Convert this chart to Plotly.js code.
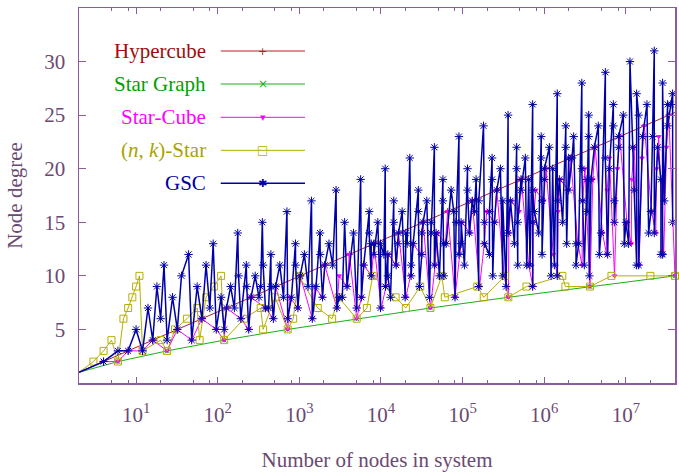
<!DOCTYPE html>
<html><head><meta charset="utf-8">
<script src="https://cdn.plot.ly/plotly-3.0.1.min.js"></script>
<style>html,body{margin:0;padding:0;background:#fff;}#chart{width:679px;height:472px;}</style>
</head><body><div id="chart"></div>
<script>
// ---- data ----
const hyperNodes = [2,4,8,16,32,64,128,256,512,1024,2048,4096,8192,16384,32768,65536,131072,262144,524288,1048576,2097152,4194304,8388608,16777216,33554432,67108864];
const hyperDegree = [1,2,3,4,5,6,7,8,9,10,11,12,13,14,15,16,17,18,19,20,21,22,23,24,25,26];

const starNodes = [2,6,24,120,720,5040,40320,362880,3628800,39916800];
const starDegree = [1,2,3,4,5,6,7,8,9,10];

const starCubeNodes = [2,4,6,8,12,16,24,32,48,64,96,120,128,192,240,256,384,480,512,720,768,960,1024,1440,1536,1920,2048,2880,3072,3840,4096,5040,5760,6144,7680,8192,10080,11520,12288,15360,16384,20160,23040,24576,30720,32768,40320,46080,49152,61440,65536,80640,92160,98304,122880,131072,161280,184320,196608,245760,262144,322560,362880,368640,393216,491520,524288,645120,725760,737280,786432,983040,1048576,1290240,1451520,1474560,1572864,1966080,2097152,2580480,2903040,2949120,3145728,3628800,3932160,4194304,5160960,5806080,5898240,6291456,7257600,7864320,8388608,10321920,11612160,11796480,12582912,14515200,15728640,16777216,20643840,23224320,23592960,25165824,29030400,31457280,33554432,39916800,41287680,46448640,47185920,50331648];
const starCubeDegree = [1,2,2,3,3,4,3,5,4,6,5,4,7,6,5,8,7,6,9,5,8,7,10,6,9,8,11,7,10,9,12,6,8,11,10,13,7,9,12,11,14,8,10,13,12,15,7,11,14,13,16,8,12,15,14,17,9,13,16,15,18,10,8,14,17,16,19,11,9,15,18,17,20,12,10,16,19,18,21,13,11,17,20,9,19,22,14,12,18,21,10,20,23,15,13,19,22,11,21,24,16,14,20,23,12,22,25,10,17,15,21,24];

const nkNodes = [2,3,4,5,6,7,8,9,10,11,12,20,24,30,42,56,60,72,90,110,120,210,336,360,504,720,840,990,1680,2520,3024,5040,6720,7920,15120,20160,30240,40320,55440,60480,151200,181440,332640,362880,604800,1663200,1814400,3628800,6652800,19958400,39916800];
const nkDegree = [1,2,3,4,2,6,7,8,9,10,3,4,3,5,6,7,4,8,9,10,4,6,7,5,8,5,6,10,7,6,8,6,7,10,8,7,9,7,10,8,9,8,10,8,9,10,9,9,10,10,10];

const gscNodes = [2,4,6,8,10,12,14,16,18,20,22,24,28,32,36,44,48,56,64,72,80,88,96,110,120,128,144,160,176,180,192,224,227,240,256,288,320,336,352,360,384,420,448,450,480,512,576,640,704,720,800,896,900,960,1024,1152,1280,1408,1440,1600,1792,1800,1920,2048,2304,2560,2816,2880,3072,3360,3584,3840,4608,5040,5632,5760,6144,
7168,7168,7586,7586,8192,8192,9141,9863,9863,10840,11264,11350,12130,12130,13070,14336,14336,15340,16070,16384,18160,19770,20160,20910,22528,23390,23390,24770,28672,28672,29580,31620,31620,32768,36390,39250,41110,41110,45056,45056,47330,52030,57344,57344,58790,58790,62770,72280,77870,80640,83180,90112,90112,95760,95760,105200,114688,114688,121000,131072,139400,146200,157500,157500,180224,184900,184900,212900,212900,229376,229376,233700,245000,262144,290300,309700,309700,340400,360448,360448,384600,430600,458752,458752,473100,473100,
518800,518800,586100,609200,644400,669300,720896,720896,721800,721800,756300,854700,917504,917504,939000,939000,1003000,1003000,1154000,1210000,1268000,1329000,1441792,1441792,1459000,1530000,1680000,1835008,1835008,1881000,1990000,1990000,2186000,2291000,2448000,2448000,2638000,2883584,2883584,2951000,3094000,3337000,3337000,3499000,3499000,3565000,3734000,4105000,4594000,4724000,4950000,5596000,5596000,5975000,6264000,7015000,7015000,7213000,7213000,8149000,8149000,9290000,9550000,10020000,10800000,11210000,12090000,12670000,13530000,13530000,14310000,14310000,16030000,18110000,18970000,20270000,21240000,22250000,22250000,24430000,26850000,26850000,28120000,28120000,29510000,32360000,32360000,35560000,37330000,37330000];
const gscDegree = [1,2,3,3,5,3,7,4,9,6,11,4,8,5,10,12,4,9,6,11,7,13,5,8,5,7,9,7,14,10,6,11,9,5,8,10,8,9,15,11,7,7,12,9,6,9,11,8,16,6,8,13,11,7,10,12,9,17,6,9,14,12,8,11,13,11,18,7,8,8,15,9,14,7,19,8,11,
16,14,10,13,13,12,15,7,13,12,20,9,12,10,8,17,15,11,13,14,16,8,14,13,21,11,10,13,18,16,9,12,14,15,17,8,15,14,22,11,14,10,19,17,10,13,13,18,16,8,15,23,12,13,15,11,20,18,14,17,16,19,9,17,24,15,13,12,16,21,19,10,15,18,20,10,17,9,25,14,17,13,22,20,11,15,
19,18,21,11,19,11,26,9,15,18,16,14,23,21,17,12,19,20,22,10,20,11,27,10,17,19,15,24,22,13,21,18,21,23,13,11,13,28,20,17,11,19,16,25,23,10,19,22,24,12,14,29,21,12,20,26,24,17,15,22,23,25,13,15,13,30,22,18,11,27,25,11,23,26,14,16,23,31,14,22,19,12,12,28,17,26,24,26,27,15];

const xTickVals = [10,100,1000,10000,100000,1000000,10000000];
const xTickText = ['10<sup>1</sup>','10<sup>2</sup>','10<sup>3</sup>','10<sup>4</sup>','10<sup>5</sup>','10<sup>6</sup>','10<sup>7</sup>'];
const xMinorVals = [2,5,8,20,50,80,200,500,800,2000,5000,8000,20000,50000,80000,200000,500000,800000,2000000,5000000,8000000,20000000];
const yTickVals = [5,10,15,20,25,30];

const seriesNames = ['Hypercube','Star Graph','Star-Cube','(<i>n</i>, <i>k</i>)-Star','GSC'];

// ---- styling ----
const axisColor = '#8c5c9e';
const textColor = '#6a4a72';
const fontFam = 'Liberation Serif';
const cols = ['#b22222','#1aae1a','#ff00ff','#b5b000','#0000a8'];
const txtCols = ['#a00c0c','#00a000','#ff00ff','#a9a300','#00009c'];

function tr(x, y, i, sym, size, lw, clip){
  return {x:x, y:y, type:'scatter', mode:'lines+markers', name:seriesNames[i], cliponaxis:clip,
    line:{color:cols[i], width:lw},
    marker:{symbol:sym, size:size, color:cols[i], line:{color:cols[i], width:1}}};
}
const data = [
  tr(hyperNodes, hyperDegree, 0, 'cross-thin', 5, 1, true),
  tr(starNodes, starDegree, 1, 'x-thin', 5, 1, false),
  tr(starCubeNodes, starCubeDegree, 2, 'triangle-down', 4, 1, true),
  tr(nkNodes, nkDegree, 3, 'square-open', 7, 1, false),
  tr(gscNodes, gscDegree, 4, 'asterisk-open', 7, 1.5, false)
];

// custom gnuplot-style key (text, then sample)
const rowsY = [0.8853,0.7973,0.7085,0.6205,0.5325];
const glyphs = ['+','×','▾','□','✱'];
const glyphSize = [11,12,11,12,11];
const annotations = [], shapes = [];
for (let i=0;i<5;i++){
  annotations.push({xref:'paper', yref:'paper', x:0.2164, y:rowsY[i], xanchor:'right', yanchor:'middle',
    text:seriesNames[i], showarrow:false, font:{family:fontFam, size:21, color:txtCols[i]}});
  shapes.push({type:'line', xref:'paper', yref:'paper', x0:0.2378, x1:0.3792, y0:rowsY[i], y1:rowsY[i],
    line:{color:cols[i], width:(i===4?1.5:1)}});
  annotations.push({xref:'paper', yref:'paper', x:0.3082, y:rowsY[i], xanchor:'center', yanchor:'middle',
    text:glyphs[i], showarrow:false, font:{family:'DejaVu Sans', size:glyphSize[i], color:cols[i]}});
}

const layout = {
  width:679, height:472,
  margin:{l:79, r:4, t:8, b:89},
  paper_bgcolor:'#ffffff', plot_bgcolor:'#ffffff',
  showlegend:false,
  font:{family:fontFam, size:21, color:textColor},
  xaxis:{type:'log', range:[Math.log10(2), Math.log10(39916800)],
    tickmode:'array', tickvals:xTickVals, ticktext:xTickText,
    ticks:'inside', ticklen:6, tickwidth:1, tickcolor:axisColor,
    minor:{tickmode:'array', tickvals:xMinorVals, ticks:'inside', ticklen:3, tickcolor:axisColor, tickwidth:1},
    showline:true, linecolor:axisColor, linewidth:1.5, mirror:'ticks',
    showgrid:false, zeroline:false, ticklabelstandoff:12,
    tickfont:{family:fontFam, size:21, color:textColor},
    title:{text:'Number of nodes in system', font:{family:fontFam, size:21, color:textColor}, standoff:30}},
  yaxis:{range:[0,35], tickmode:'array', tickvals:yTickVals,
    ticks:'inside', ticklen:7, tickwidth:1, tickcolor:axisColor,
    showline:true, linecolor:axisColor, linewidth:1.5, mirror:'ticks',
    showgrid:false, zeroline:false, ticklabelstandoff:8,
    tickfont:{family:fontFam, size:21, color:textColor},
    title:{text:'Node degree', font:{family:fontFam, size:21, color:textColor}, standoff:16}},
  annotations:annotations, shapes:shapes
};
Plotly.newPlot('chart', data, layout, {staticPlot:true, displayModeBar:false});
</script></body></html>
